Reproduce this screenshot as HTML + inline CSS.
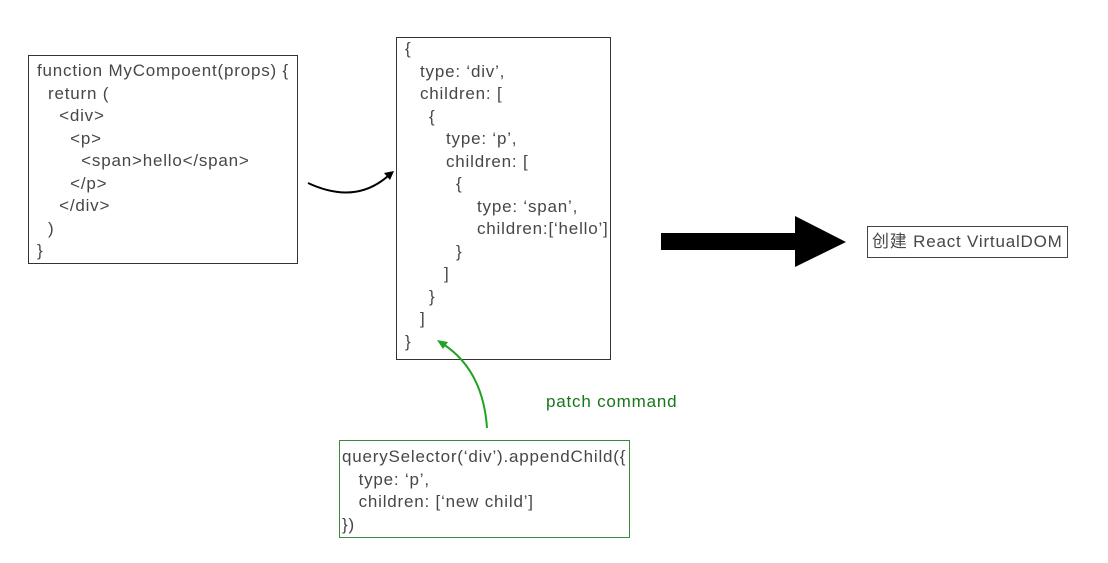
<!DOCTYPE html>
<html><head><meta charset="utf-8"><style>
html,body{margin:0;padding:0;background:#fff;}
body{width:1108px;height:563px;position:relative;overflow:hidden;font-family:"Liberation Sans","Noto Sans CJK SC",sans-serif;font-size:17px;letter-spacing:0.8px;color:#474747;}
.box{position:absolute;box-sizing:border-box;border:1px solid #333;}
.t{position:absolute;white-space:pre;line-height:20px;}
</style></head><body>
<div class="box" style="left:28px;top:55px;width:270px;height:209px;"></div>
<div class="box" style="left:396px;top:37px;width:215px;height:323px;"></div>
<div class="box" style="left:867px;top:226px;width:201px;height:32px;border-color:#444;"></div>
<div class="box" style="left:339px;top:440px;width:291px;height:98px;border-color:#3a8a3a;"></div>

<div class="t" style="left:37px;top:61px;">function MyCompoent(props) {</div>
<div class="t" style="left:37px;top:84px;">  return (</div>
<div class="t" style="left:37px;top:106px;">    &lt;div&gt;</div>
<div class="t" style="left:37px;top:129px;">      &lt;p&gt;</div>
<div class="t" style="left:37px;top:151px;">        &lt;span&gt;hello&lt;/span&gt;</div>
<div class="t" style="left:37px;top:174px;">      &lt;/p&gt;</div>
<div class="t" style="left:37px;top:196px;">    &lt;/div&gt;</div>
<div class="t" style="left:37px;top:219px;">  )</div>
<div class="t" style="left:37px;top:241px;">}</div>

<div class="t" style="left:405px;top:39px;">{</div>
<div class="t" style="left:420px;top:62px;">type: ‘div’,</div>
<div class="t" style="left:420px;top:84px;">children: [</div>
<div class="t" style="left:429px;top:107px;">{</div>
<div class="t" style="left:446px;top:129px;">type: ‘p’,</div>
<div class="t" style="left:446px;top:152px;">children: [</div>
<div class="t" style="left:456px;top:174px;">{</div>
<div class="t" style="left:477px;top:197px;">type: ‘span’,</div>
<div class="t" style="left:477px;top:219px;">children:[‘hello’]</div>
<div class="t" style="left:456px;top:242px;">}</div>
<div class="t" style="left:444px;top:264px;">]</div>
<div class="t" style="left:429px;top:287px;">}</div>
<div class="t" style="left:420px;top:309px;">]</div>
<div class="t" style="left:405px;top:332px;">}</div>

<div class="t" style="left:872px;top:232px;">创建 React VirtualDOM</div>

<div class="t" style="left:546px;top:392px;color:#17761a;">patch command</div>

<div class="t" style="left:342px;top:447px;">querySelector(‘div’).appendChild({</div>
<div class="t" style="left:342px;top:470px;">   type: ‘p’,</div>
<div class="t" style="left:342px;top:492px;">   children: [‘new child’]</div>
<div class="t" style="left:342px;top:515px;">})</div>

<svg width="1108" height="563" style="position:absolute;left:0;top:0;">
  <path d="M308,183 Q355,205 388,176" fill="none" stroke="#000" stroke-width="2"/>
  <polygon points="394,171 384,173 390,180" fill="#000"/>
  <path d="M487,428 Q483,370 443,344" fill="none" stroke="#22a322" stroke-width="2"/>
  <polygon points="437,340 448,342 443,349" fill="#22a322"/>
  <rect x="661" y="233" width="135" height="17" fill="#000"/>
  <polygon points="795,216 846,242 795,267" fill="#000"/>
</svg>
</body></html>
